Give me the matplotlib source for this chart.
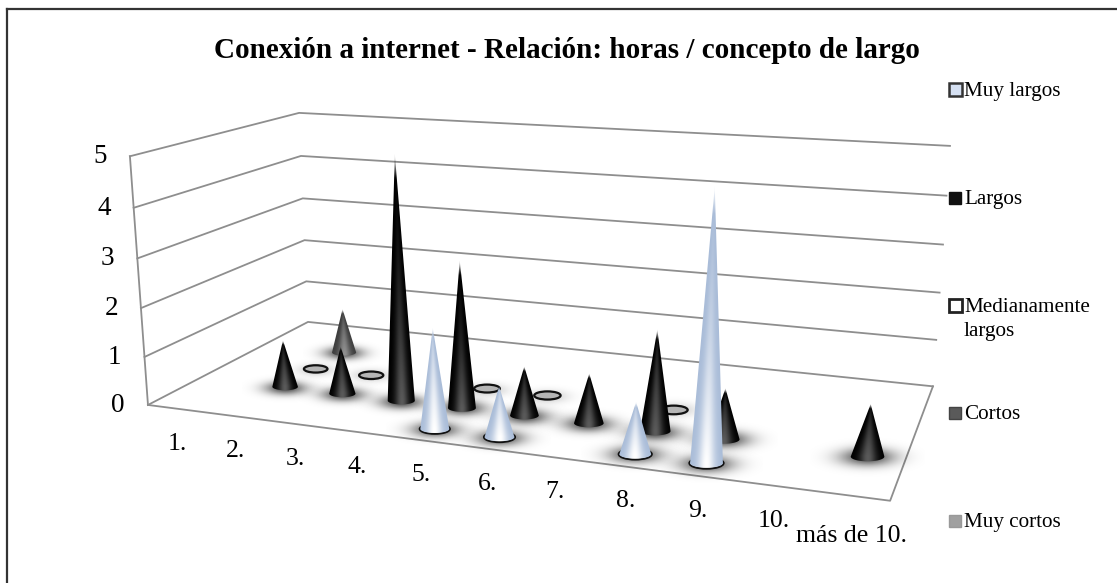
import numpy as np
import matplotlib
matplotlib.use("Agg")
import matplotlib.pyplot as plt
from matplotlib.patches import Ellipse, Rectangle, Polygon
from matplotlib.colors import to_rgb

plt.rcParams['font.family'] = ['Liberation Serif', 'DejaVu Serif']
nan = float('nan')

title = "Conexión a internet - Relación: horas / concepto de largo"
categories = ["1.", "2.", "3.", "4.", "5.", "6.", "7.", "8.", "9.", "10.", "más de 10."]
value_ticks = [0, 1, 2, 3, 4, 5]
legend_labels = ["Muy largos", "Largos", "Medianamente\nlargos", "Cortos", "Muy cortos"]

muy_largos = [nan, nan, nan, nan, 2, 1, nan, 1, 5, nan, nan]
largos = [nan, 1, 1, 5, 3, 1, 1, 2, 1, nan, 1]
medianamente = [nan, 0, 0, nan, 0, 0, nan, 0, nan, nan, nan]
cortos = [nan, 1, nan, nan, nan, nan, nan, nan, nan, nan, nan]
muy_cortos = [nan] * 11
series = [muy_largos, largos, medianamente, cortos, muy_cortos]

# colour styles: edge colour, centre colour of each cone
styles = [("#a9bcd8", "#ffffff"), ("#000000", "#5a5a5a"), ("#000000", "#ffffff"),
          ("#3c3c3c", "#909090"), ("#707070", "#b0b0b0")]

W, H = 1117, 583
fig = plt.figure(figsize=(W / 100, H / 100), dpi=100)
ax = fig.add_axes([0, 0, 1, 1])
ax.axis("off")

# camera fitted from the box corners (category, series, value) -> pixel
anchors = [((0, 0, 0), (148, 405)), ((11, 0, 0), (890, 501)), ((11, 5, 0), (933, 386)),
           ((0, 5, 0), (308, 322)), ((0, 0, 5), (130, 156)), ((0, 5, 5), (299, 113)),
           ((11, 5, 5), (950, 146))]
A, b_ = [], []
for (x, y, z), (u, v) in anchors:
    A.append([x, y, z, 1, 0, 0, 0, 0, -u * x, -u * y, -u * z])
    A.append([0, 0, 0, 0, x, y, z, 1, -v * x, -v * y, -v * z])
    b_ += [u, v]
P = np.append(np.linalg.lstsq(np.array(A, float), np.array(b_, float), rcond=None)[0], 1).reshape(3, 4)


def proj(x, y, z):
    q = P @ np.array([x, y, z, 1.0])
    return q[:2] / q[2]


# frame (only top and left are visible)
ax.plot([7, 7], [H, 9], color="#333333", lw=1.6, zorder=1)
ax.plot([7, W], [9, 9], color="#333333", lw=1.6, zorder=1)

grid = "#8e8e8e"
for v in value_ticks:
    pts = np.array([proj(0, 0, v), proj(0, 5, v), proj(11, 5, v)])
    ax.plot(pts[:, 0], pts[:, 1], color=grid, lw=1.3, zorder=2)
    p = proj(0, 0, v)
    ax.text(p[0] - 23, p[1] + 0.5, str(v), ha="right", va="center", fontsize=19.5, color="black")
pts = np.array([proj(0, 0, 0), proj(0, 0, 5)])
ax.plot(pts[:, 0], pts[:, 1], color=grid, lw=1.3, zorder=2)
pts = np.array([proj(0, 0, 0), proj(11, 0, 0), proj(11, 5, 0)])
ax.plot(pts[:, 0], pts[:, 1], color=grid, lw=1.3, zorder=2)

# category labels
for i, c in enumerate(categories):
    p = proj(i + 0.5, 0, 0)
    extra = 5 if i == 10 else 0
    ax.text(p[0] + 1, p[1] + 35 + extra, c, ha="center", va="center", fontsize=18.5)


def shadow(cx, cy, a, z, strength):
    xs = np.linspace(cx - 3.4 * a, cx + 3.4 * a, 140)
    ys = np.linspace(cy - 1.4 * a, cy + 1.4 * a + 2, 70)
    X, Y = np.meshgrid(xs, ys)
    r2 = ((X - cx) / (a * 1.6)) ** 2 + ((Y - cy - 1) / (a * 0.52)) ** 2
    rgba = np.zeros(X.shape + (4,))
    rgba[..., 3] = strength * np.exp(-r2)
    ax.imshow(rgba, extent=(xs[0], xs[-1], ys[-1], ys[0]), origin="upper", aspect="auto",
              interpolation="bilinear", zorder=z)


def cone(c0, tip, a, b, edge, centre, z):
    t = np.linspace(0, np.pi, 40)
    arc = np.column_stack([c0[0] + a * np.cos(t), c0[1] + b * np.sin(t)])
    sil = np.vstack([tip, arc])
    x0, x1 = sil[:, 0].min() - 1, sil[:, 0].max() + 1
    y0, y1 = sil[:, 1].min() - 1, sil[:, 1].max() + 1
    xs = np.linspace(x0, x1, max(int((x1 - x0) * 3), 8))
    ys = np.linspace(y0, y1, max(int((y1 - y0) * 2), 8))
    X, Y = np.meshgrid(xs, ys)
    h = np.clip((c0[1] - Y) / (c0[1] - tip[1]), 0, 1)
    axis_x = c0[0] + (tip[0] - c0[0]) * h
    hw = np.maximum(a * (1 - h), 0.35)
    u = np.clip((X - axis_x) / hw, -1, 1)
    height_px = c0[1] - tip[1]
    power = 0.7 if height_px < 120 else 1.6
    w = np.exp(-(u / 0.5) ** 2) * (1 - h) ** power
    e, c = np.array(to_rgb(edge)), np.array(to_rgb(centre))
    rgba = np.ones(X.shape + (4,))
    for n in range(3):
        rgba[..., n] = e[n] + (c[n] - e[n]) * w
    # soft fade at the tip
    rgba[..., 3] = np.clip((1 - h) / 0.10, 0.15, 1)
    im = ax.imshow(rgba, extent=(x0, x1, y1, y0), origin="upper", aspect="auto",
                   interpolation="bilinear", zorder=z)
    patch = Polygon(sil, closed=True, transform=ax.transData, fc="none", ec="none")
    ax.add_patch(patch)
    im.set_clip_path(patch)


zo = 3
for j in range(4, -1, -1):
    vals = series[j]
    edge, centre = styles[j]
    y = j + 0.5
    for i, val in enumerate(vals):
        if np.isnan(val):
            continue
        x = i + 0.5
        c0 = proj(x, y, 0)
        a = 0.225 * np.linalg.norm(proj(x + 0.5, y, 0) - proj(x - 0.5, y, 0))
        b = a * 0.28
        zo += 1
        if val == 0:
            shadow(c0[0], c0[1], a * 0.9, zo, 0.2)
            ax.add_patch(Ellipse(c0, 2 * a * 0.95, 2 * b * 1.05, fc="#b5b5b5", ec="#111111", lw=1.6, zorder=zo))
            continue
        shadow(c0[0], c0[1], a, zo, 0.7)
        if j == 0:
            ax.add_patch(Ellipse(c0, 2 * a * 1.04, 2 * b * 1.2, fc="white", ec="#111111", lw=1.5, zorder=zo))
        cone(c0, proj(x, y, val), a, b, edge, centre, zo)

# title
ax.text(567, 58, title, ha="center", va="baseline", fontsize=21, fontweight="bold")

# legend
legend_base = [96, 204, 312, 419, 527]
mark_fc = ["#d5e0f2", "#111111", "white", "#5a5a5a", "#a0a0a0"]
mark_ec = ["#333333", "#111111", "#222222", "#444444", "#999999"]
mark_size = [13, 12, 13, 12, 12]
mark_lw = [1.8, 1, 2, 1, 1]
for lab, yb, fc, ec, sz, lw in zip(legend_labels, legend_base, mark_fc, mark_ec, mark_size, mark_lw):
    ax.add_patch(Rectangle((955 - sz / 2, yb - 6.5 - sz / 2), sz, sz, fc=fc, ec=ec, lw=lw, zorder=5))
    for n, line in enumerate(lab.split("\n")):
        ax.text(964, yb + 24 * n, line, ha="left", va="baseline", fontsize=15.2)

ax.set_xlim(0, W)
ax.set_ylim(H, 0)
fig.savefig("out.png", dpi=100, facecolor="white")
